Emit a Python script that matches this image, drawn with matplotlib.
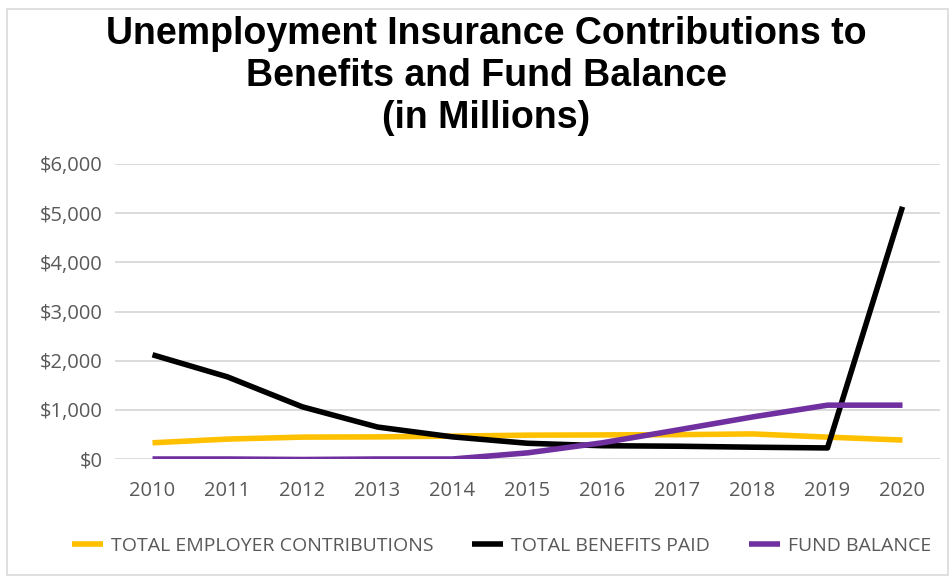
import matplotlib.pyplot as plt
from matplotlib.patches import Rectangle
from matplotlib.ticker import FuncFormatter

years = [2010, 2011, 2012, 2013, 2014, 2015, 2016, 2017, 2018, 2019, 2020]
contributions = [330, 405, 445, 450, 465, 485, 490, 495, 510, 445, 385]
benefits = [2120, 1670, 1060, 650, 450, 320, 270, 260, 240, 225, 5130]
fund_balance = [0, 0, -10, 0, 0, 125, 330, 590, 855, 1095, 1095]

labels = ['TOTAL EMPLOYER CONTRIBUTIONS', 'TOTAL BENEFITS PAID', 'FUND BALANCE']
colors = ['#FFC000', '#000000', '#7030A0']

plt.rcParams['font.family'] = ['Open Sans', 'DejaVu Sans']

fig = plt.figure(figsize=(9.53, 5.78), dpi=100)
fig.patches.append(Rectangle((7 / 953, 3 / 578), 941 / 953, 566 / 578,
                             transform=fig.transFigure, fill=False,
                             edgecolor='#D9D9D9', linewidth=1.2))

ax = fig.add_axes([115 / 953, 1 - 459 / 578, 825 / 953, 295 / 578])
for vals, lab, col in zip([contributions, benefits, fund_balance], labels, colors):
    ax.plot(years, vals, color=col, linewidth=4, label=lab,
            solid_capstyle='butt', solid_joinstyle='round')

ax.set_xlim(2009.5, 2020.5)
ax.set_ylim(0, 6000)
ax.set_xticks(years)
ax.set_yticks(range(0, 6001, 1000))
ax.yaxis.set_major_formatter(FuncFormatter(lambda v, p: '${:,.0f}'.format(v)))
ax.grid(axis='y', color='#D9D9D9', linewidth=1.3)
ax.set_axisbelow(True)
for s in ax.spines.values():
    s.set_visible(False)
ax.tick_params(length=0, labelsize=14.5, labelcolor='#595959')
ax.tick_params(axis='x', pad=16)
ax.tick_params(axis='y', pad=9)

fig.text(486 / 953, 1 - 76 / 578,
         'Unemployment Insurance Contributions to\nBenefits and Fund Balance\n(in Millions)',
         ha='center', va='center', fontsize=27, fontweight='bold',
         family='Liberation Sans', linespacing=1.2)

fig.legend(loc='center', bbox_to_anchor=(0.526, 1 - 546 / 578), ncol=3,
           frameon=False, fontsize=14, labelcolor='#595959',
           handlelength=1.6, handletextpad=0.4, columnspacing=2.0)

plt.savefig('out.png', dpi=100)
